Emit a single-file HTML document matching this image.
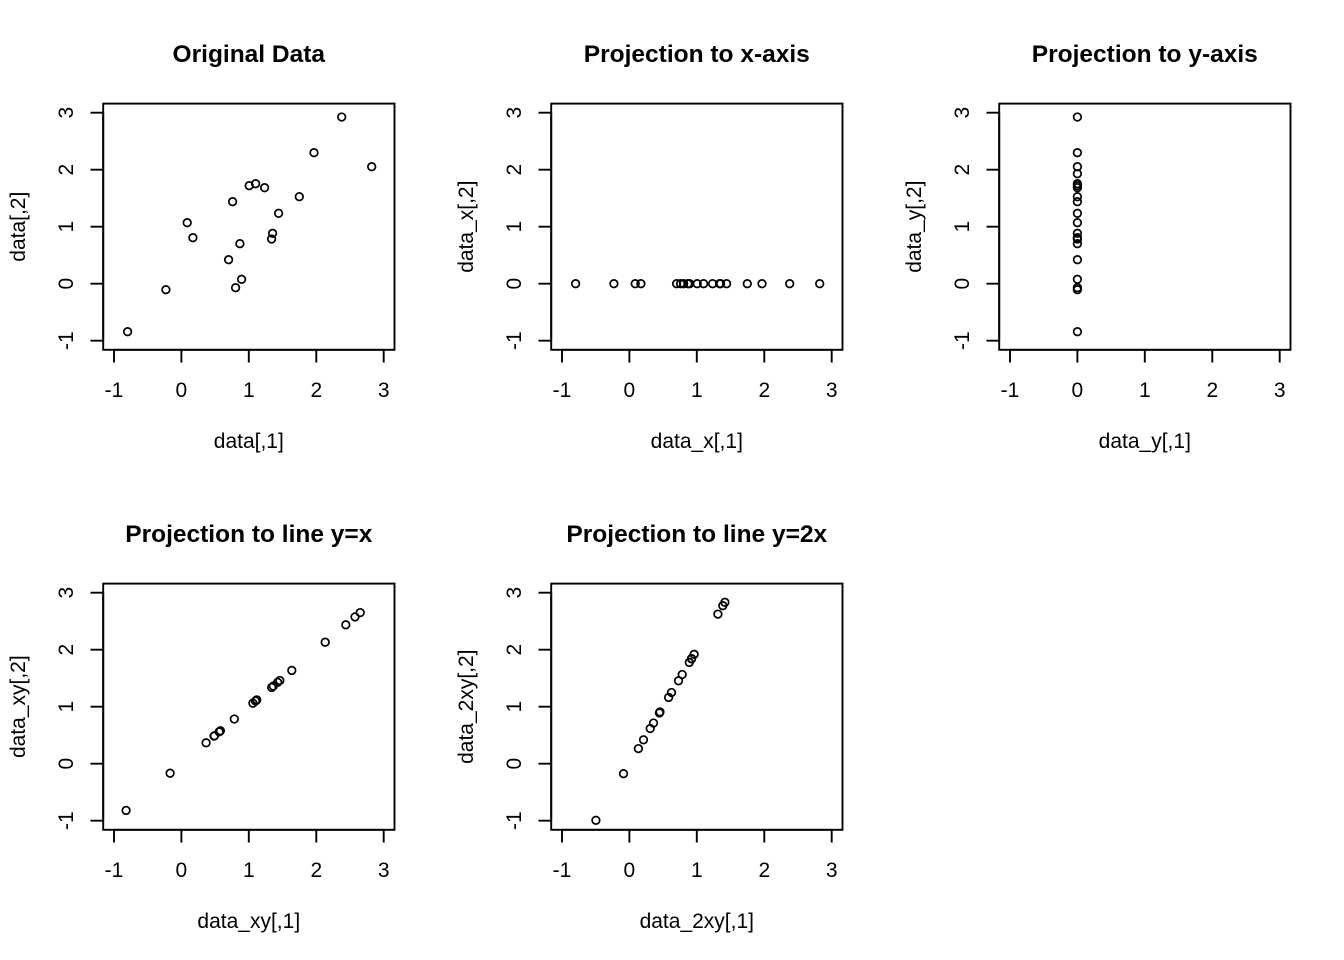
<!DOCTYPE html>
<html>
<head>
<meta charset="utf-8">
<style>
html,body{margin:0;padding:0;background:#fff;}
svg{display:block;}
text{font-family:"Liberation Sans",Arial,sans-serif;fill:#000;}
.t{font-size:24.5px;font-weight:bold;text-anchor:middle;}
.l{font-size:21px;text-anchor:middle;}
.box{fill:none;stroke:#000;stroke-width:1.9;}
.tk{stroke:#000;stroke-width:1.9;fill:none;}
.p circle{fill:none;stroke:#000;stroke-width:1.7;}
</style>
</head>
<body>
<svg width="1344" height="960" viewBox="0 0 1344 960" xmlns="http://www.w3.org/2000/svg">
<rect x="0" y="0" width="1344" height="960" fill="#fff"/>
<defs>
<clipPath id="c1"><rect x="103.2" y="103.6" width="291.3" height="246.2"/></clipPath>
<clipPath id="c2"><rect x="551.2" y="103.6" width="291.3" height="246.2"/></clipPath>
<clipPath id="c3"><rect x="999.2" y="103.6" width="291.3" height="246.2"/></clipPath>
<clipPath id="c4"><rect x="103.2" y="583.6" width="291.3" height="246.2"/></clipPath>
<clipPath id="c5"><rect x="551.2" y="583.6" width="291.3" height="246.2"/></clipPath>
</defs>

<!-- ================= Panel 1 ================= -->
<g>
<text class="t" x="248.8" y="62">Original Data</text>
<rect class="box" x="103.2" y="103.6" width="291.3" height="246.2"/>
<path class="tk" d="M114,349.8V362.5M181.4,349.8V362.5M248.8,349.8V362.5M316.3,349.8V362.5M383.7,349.8V362.5M114,349.8H383.7"/>
<path class="tk" d="M103.2,112.7H90.5M103.2,169.7H90.5M103.2,226.7H90.5M103.2,283.7H90.5M103.2,340.7H90.5M103.2,112.7V340.7"/>
<text class="l" x="114" y="397">-1</text>
<text class="l" x="181.4" y="397">0</text>
<text class="l" x="248.8" y="397">1</text>
<text class="l" x="316.3" y="397">2</text>
<text class="l" x="383.7" y="397">3</text>
<text class="l" transform="translate(73,340.7) rotate(-90)">-1</text>
<text class="l" transform="translate(73,283.7) rotate(-90)">0</text>
<text class="l" transform="translate(73,226.7) rotate(-90)">1</text>
<text class="l" transform="translate(73,169.7) rotate(-90)">2</text>
<text class="l" transform="translate(73,112.7) rotate(-90)">3</text>
<text class="l" x="248.8" y="448">data[,1]</text>
<text class="l" transform="translate(25,226.7) rotate(-90)">data[,2]</text>
<g class="p" clip-path="url(#c1)">
<circle cx="341.7" cy="117.0" r="3.8"/>
<circle cx="314.0" cy="152.7" r="3.8"/>
<circle cx="371.7" cy="166.7" r="3.8"/>
<circle cx="249.2" cy="185.7" r="3.8"/>
<circle cx="255.6" cy="183.7" r="3.8"/>
<circle cx="264.6" cy="187.7" r="3.8"/>
<circle cx="232.6" cy="201.7" r="3.8"/>
<circle cx="299.3" cy="196.7" r="3.8"/>
<circle cx="278.6" cy="213.3" r="3.8"/>
<circle cx="187.2" cy="222.7" r="3.8"/>
<circle cx="192.9" cy="237.7" r="3.8"/>
<circle cx="272.6" cy="233.3" r="3.8"/>
<circle cx="271.6" cy="239.0" r="3.8"/>
<circle cx="239.9" cy="243.7" r="3.8"/>
<circle cx="228.6" cy="259.7" r="3.8"/>
<circle cx="241.6" cy="279.3" r="3.8"/>
<circle cx="235.6" cy="287.7" r="3.8"/>
<circle cx="165.9" cy="289.7" r="3.8"/>
<circle cx="127.6" cy="331.7" r="3.8"/>
<circle cx="399.5" cy="173.7" r="3.8"/>
</g>
</g>

<!-- ================= Panel 2 ================= -->
<g>
<text class="t" x="696.8" y="62">Projection to x-axis</text>
<rect class="box" x="551.2" y="103.6" width="291.3" height="246.2"/>
<path class="tk" d="M562,349.8V362.5M629.4,349.8V362.5M696.8,349.8V362.5M764.3,349.8V362.5M831.7,349.8V362.5M562,349.8H831.7"/>
<path class="tk" d="M551.2,112.7H538.5M551.2,169.7H538.5M551.2,226.7H538.5M551.2,283.7H538.5M551.2,340.7H538.5M551.2,112.7V340.7"/>
<text class="l" x="562" y="397">-1</text>
<text class="l" x="629.4" y="397">0</text>
<text class="l" x="696.8" y="397">1</text>
<text class="l" x="764.3" y="397">2</text>
<text class="l" x="831.7" y="397">3</text>
<text class="l" transform="translate(521,340.7) rotate(-90)">-1</text>
<text class="l" transform="translate(521,283.7) rotate(-90)">0</text>
<text class="l" transform="translate(521,226.7) rotate(-90)">1</text>
<text class="l" transform="translate(521,169.7) rotate(-90)">2</text>
<text class="l" transform="translate(521,112.7) rotate(-90)">3</text>
<text class="l" x="696.8" y="448">data_x[,1]</text>
<text class="l" transform="translate(473,226.7) rotate(-90)">data_x[,2]</text>
<g class="p" clip-path="url(#c2)">
<circle cx="575.6" cy="283.7" r="3.8"/>
<circle cx="613.9" cy="283.7" r="3.8"/>
<circle cx="635.2" cy="283.7" r="3.8"/>
<circle cx="640.9" cy="283.7" r="3.8"/>
<circle cx="676.6" cy="283.7" r="3.8"/>
<circle cx="680.6" cy="283.7" r="3.8"/>
<circle cx="683.6" cy="283.7" r="3.8"/>
<circle cx="687.9" cy="283.7" r="3.8"/>
<circle cx="689.6" cy="283.7" r="3.8"/>
<circle cx="697.2" cy="283.7" r="3.8"/>
<circle cx="703.6" cy="283.7" r="3.8"/>
<circle cx="712.6" cy="283.7" r="3.8"/>
<circle cx="719.6" cy="283.7" r="3.8"/>
<circle cx="720.6" cy="283.7" r="3.8"/>
<circle cx="726.6" cy="283.7" r="3.8"/>
<circle cx="747.3" cy="283.7" r="3.8"/>
<circle cx="762.0" cy="283.7" r="3.8"/>
<circle cx="789.7" cy="283.7" r="3.8"/>
<circle cx="819.7" cy="283.7" r="3.8"/>
<circle cx="847.5" cy="283.7" r="3.8"/>
</g>
</g>

<!-- ================= Panel 3 ================= -->
<g>
<text class="t" x="1144.8" y="62">Projection to y-axis</text>
<rect class="box" x="999.2" y="103.6" width="291.3" height="246.2"/>
<path class="tk" d="M1010,349.8V362.5M1077.4,349.8V362.5M1144.8,349.8V362.5M1212.3,349.8V362.5M1279.7,349.8V362.5M1010,349.8H1279.7"/>
<path class="tk" d="M999.2,112.7H986.5M999.2,169.7H986.5M999.2,226.7H986.5M999.2,283.7H986.5M999.2,340.7H986.5M999.2,112.7V340.7"/>
<text class="l" x="1010" y="397">-1</text>
<text class="l" x="1077.4" y="397">0</text>
<text class="l" x="1144.8" y="397">1</text>
<text class="l" x="1212.3" y="397">2</text>
<text class="l" x="1279.7" y="397">3</text>
<text class="l" transform="translate(969,340.7) rotate(-90)">-1</text>
<text class="l" transform="translate(969,283.7) rotate(-90)">0</text>
<text class="l" transform="translate(969,226.7) rotate(-90)">1</text>
<text class="l" transform="translate(969,169.7) rotate(-90)">2</text>
<text class="l" transform="translate(969,112.7) rotate(-90)">3</text>
<text class="l" x="1144.8" y="448">data_y[,1]</text>
<text class="l" transform="translate(921,226.7) rotate(-90)">data_y[,2]</text>
<g class="p" clip-path="url(#c3)">
<circle cx="1077.4" cy="117.0" r="3.8"/>
<circle cx="1077.4" cy="152.7" r="3.8"/>
<circle cx="1077.4" cy="166.7" r="3.8"/>
<circle cx="1077.4" cy="185.7" r="3.8"/>
<circle cx="1077.4" cy="183.7" r="3.8"/>
<circle cx="1077.4" cy="187.7" r="3.8"/>
<circle cx="1077.4" cy="201.7" r="3.8"/>
<circle cx="1077.4" cy="196.7" r="3.8"/>
<circle cx="1077.4" cy="213.3" r="3.8"/>
<circle cx="1077.4" cy="222.7" r="3.8"/>
<circle cx="1077.4" cy="237.7" r="3.8"/>
<circle cx="1077.4" cy="233.3" r="3.8"/>
<circle cx="1077.4" cy="239.0" r="3.8"/>
<circle cx="1077.4" cy="243.7" r="3.8"/>
<circle cx="1077.4" cy="259.7" r="3.8"/>
<circle cx="1077.4" cy="279.3" r="3.8"/>
<circle cx="1077.4" cy="287.7" r="3.8"/>
<circle cx="1077.4" cy="289.7" r="3.8"/>
<circle cx="1077.4" cy="331.7" r="3.8"/>
<circle cx="1077.4" cy="173.7" r="3.8"/>
</g>
</g>

<!-- ================= Panel 4 ================= -->
<g>
<text class="t" x="248.8" y="542">Projection to line y=x</text>
<rect class="box" x="103.2" y="583.6" width="291.3" height="246.2"/>
<path class="tk" d="M114,829.8V842.5M181.4,829.8V842.5M248.8,829.8V842.5M316.3,829.8V842.5M383.7,829.8V842.5M114,829.8H383.7"/>
<path class="tk" d="M103.2,592.7H90.5M103.2,649.7H90.5M103.2,706.7H90.5M103.2,763.7H90.5M103.2,820.7H90.5M103.2,592.7V820.7"/>
<text class="l" x="114" y="877">-1</text>
<text class="l" x="181.4" y="877">0</text>
<text class="l" x="248.8" y="877">1</text>
<text class="l" x="316.3" y="877">2</text>
<text class="l" x="383.7" y="877">3</text>
<text class="l" transform="translate(73,820.7) rotate(-90)">-1</text>
<text class="l" transform="translate(73,763.7) rotate(-90)">0</text>
<text class="l" transform="translate(73,706.7) rotate(-90)">1</text>
<text class="l" transform="translate(73,649.7) rotate(-90)">2</text>
<text class="l" transform="translate(73,592.7) rotate(-90)">3</text>
<text class="l" x="248.8" y="928">data_xy[,1]</text>
<text class="l" transform="translate(25,706.7) rotate(-90)">data_xy[,2]</text>
<g class="p" clip-path="url(#c4)">
<circle cx="360.2" cy="612.6" r="3.8"/>
<circle cx="325.2" cy="642.2" r="3.8"/>
<circle cx="345.8" cy="624.8" r="3.8"/>
<circle cx="273.3" cy="686.0" r="3.8"/>
<circle cx="277.7" cy="682.3" r="3.8"/>
<circle cx="279.8" cy="680.5" r="3.8"/>
<circle cx="255.5" cy="701.0" r="3.8"/>
<circle cx="291.8" cy="670.4" r="3.8"/>
<circle cx="271.7" cy="687.4" r="3.8"/>
<circle cx="220.4" cy="730.8" r="3.8"/>
<circle cx="214.4" cy="735.8" r="3.8"/>
<circle cx="256.8" cy="699.9" r="3.8"/>
<circle cx="252.9" cy="703.2" r="3.8"/>
<circle cx="234.3" cy="719.0" r="3.8"/>
<circle cx="219.2" cy="731.8" r="3.8"/>
<circle cx="214.1" cy="736.1" r="3.8"/>
<circle cx="206.1" cy="742.8" r="3.8"/>
<circle cx="170.1" cy="773.2" r="3.8"/>
<circle cx="126.1" cy="810.4" r="3.8"/>
<circle cx="355.0" cy="616.9" r="3.8"/>
</g>
</g>

<!-- ================= Panel 5 ================= -->
<g>
<text class="t" x="696.8" y="542">Projection to line y=2x</text>
<rect class="box" x="551.2" y="583.6" width="291.3" height="246.2"/>
<path class="tk" d="M562,829.8V842.5M629.4,829.8V842.5M696.8,829.8V842.5M764.3,829.8V842.5M831.7,829.8V842.5M562,829.8H831.7"/>
<path class="tk" d="M551.2,592.7H538.5M551.2,649.7H538.5M551.2,706.7H538.5M551.2,763.7H538.5M551.2,820.7H538.5M551.2,592.7V820.7"/>
<text class="l" x="562" y="877">-1</text>
<text class="l" x="629.4" y="877">0</text>
<text class="l" x="696.8" y="877">1</text>
<text class="l" x="764.3" y="877">2</text>
<text class="l" x="831.7" y="877">3</text>
<text class="l" transform="translate(521,820.7) rotate(-90)">-1</text>
<text class="l" transform="translate(521,763.7) rotate(-90)">0</text>
<text class="l" transform="translate(521,706.7) rotate(-90)">1</text>
<text class="l" transform="translate(521,649.7) rotate(-90)">2</text>
<text class="l" transform="translate(521,592.7) rotate(-90)">3</text>
<text class="l" x="696.8" y="928">data_2xy[,1]</text>
<text class="l" transform="translate(473,706.7) rotate(-90)">data_2xy[,2]</text>
<g class="p" clip-path="url(#c5)">
<circle cx="740.3" cy="575.2" r="3.8"/>
<circle cx="717.9" cy="614.1" r="3.8"/>
<circle cx="722.8" cy="605.7" r="3.8"/>
<circle cx="689.3" cy="662.4" r="3.8"/>
<circle cx="691.6" cy="658.6" r="3.8"/>
<circle cx="691.5" cy="658.8" r="3.8"/>
<circle cx="678.5" cy="680.8" r="3.8"/>
<circle cx="694.1" cy="654.3" r="3.8"/>
<circle cx="682.2" cy="674.5" r="3.8"/>
<circle cx="659.4" cy="712.9" r="3.8"/>
<circle cx="653.5" cy="723.0" r="3.8"/>
<circle cx="671.5" cy="692.5" r="3.8"/>
<circle cx="668.6" cy="697.4" r="3.8"/>
<circle cx="660.0" cy="711.9" r="3.8"/>
<circle cx="650.2" cy="728.5" r="3.8"/>
<circle cx="643.5" cy="739.8" r="3.8"/>
<circle cx="638.4" cy="748.6" r="3.8"/>
<circle cx="623.5" cy="773.7" r="3.8"/>
<circle cx="595.9" cy="820.3" r="3.8"/>
<circle cx="724.9" cy="602.3" r="3.8"/>
</g>
</g>
</svg>
</body>
</html>
